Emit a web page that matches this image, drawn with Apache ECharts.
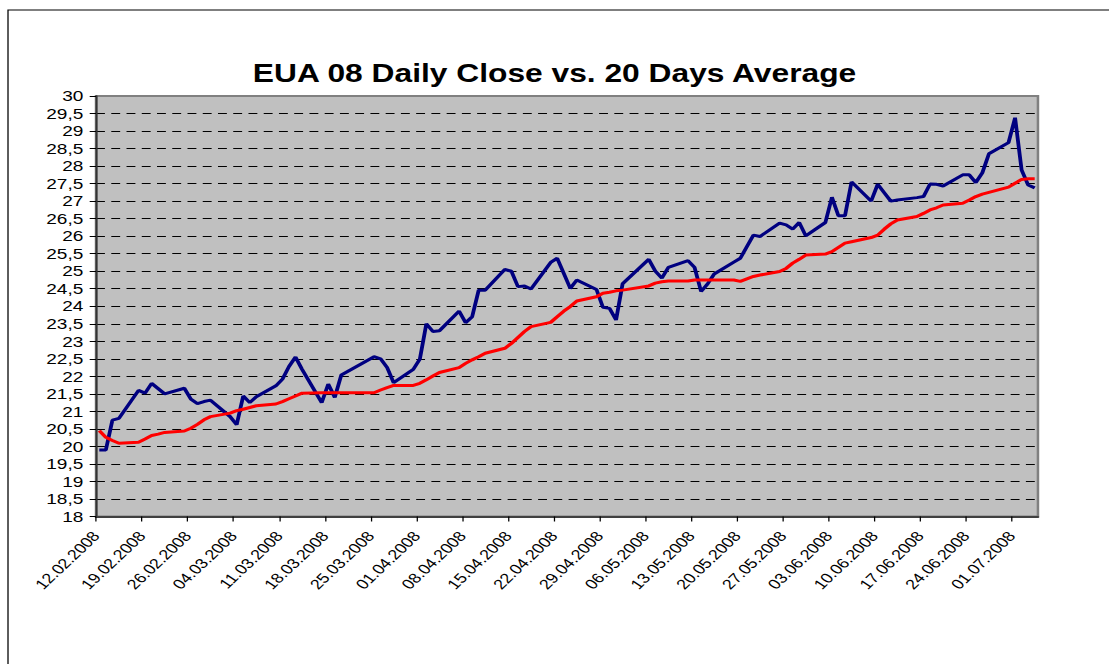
<!DOCTYPE html>
<html><head><meta charset="utf-8">
<script src="https://cdn.jsdelivr.net/npm/echarts@6/dist/echarts.min.js"></script>
<style>
html,body{margin:0;padding:0;background:#fff;overflow:hidden;}
#wrap{width:1109px;height:664px;overflow:hidden;position:relative;background:#fff;}
#chart{width:873px;height:664px;transform:scaleX(1.2703);transform-origin:0 0;}
</style></head><body>
<div id="wrap"><div id="chart"></div></div>
<script>
const tradingDates = [
'12.02.2008','13.02.2008','14.02.2008','15.02.2008',
'18.02.2008','19.02.2008','20.02.2008','21.02.2008','22.02.2008',
'25.02.2008','26.02.2008','27.02.2008','28.02.2008','29.02.2008',
'03.03.2008','04.03.2008','05.03.2008','06.03.2008','07.03.2008',
'10.03.2008','11.03.2008','12.03.2008','13.03.2008','14.03.2008',
'17.03.2008','18.03.2008','19.03.2008','20.03.2008',
'25.03.2008','26.03.2008','27.03.2008','28.03.2008',
'31.03.2008','01.04.2008','02.04.2008','03.04.2008','04.04.2008',
'07.04.2008','08.04.2008','09.04.2008','10.04.2008','11.04.2008',
'14.04.2008','15.04.2008','16.04.2008','17.04.2008','18.04.2008',
'21.04.2008','22.04.2008','23.04.2008','24.04.2008','25.04.2008',
'28.04.2008','29.04.2008','30.04.2008','01.05.2008','02.05.2008',
'06.05.2008','07.05.2008','08.05.2008','09.05.2008',
'12.05.2008','13.05.2008','14.05.2008','15.05.2008','16.05.2008',
'19.05.2008','20.05.2008','21.05.2008','22.05.2008','23.05.2008',
'26.05.2008','27.05.2008','28.05.2008','29.05.2008','30.05.2008',
'02.06.2008','03.06.2008','04.06.2008','05.06.2008','06.06.2008',
'09.06.2008','10.06.2008','11.06.2008','12.06.2008','13.06.2008',
'16.06.2008','17.06.2008','18.06.2008','19.06.2008','20.06.2008',
'23.06.2008','24.06.2008','25.06.2008','26.06.2008','27.06.2008',
'30.06.2008','01.07.2008','02.07.2008','03.07.2008','04.07.2008'
];
const dailyClose = [
19.9,19.9,20.75,20.8,
21.6,21.52,21.8,21.65,21.5,
21.66,21.35,21.22,21.28,21.32,
20.85,20.62,21.44,21.25,21.42,
21.73,21.92,22.28,22.55,22.2,
21.25,21.78,21.4,22.04,
22.56,22.5,22.25,21.82,
22.2,22.49,23.5,23.28,23.3,
23.86,23.53,23.7,24.46,24.46,
25.05,25.0,24.56,24.58,24.49,
25.25,25.37,24.94,24.51,24.75,
24.48,23.97,23.94,23.61,24.64,
25.34,25.0,24.8,25.11,
25.3,25.11,24.42,24.64,24.92,
25.26,25.37,25.7,26.03,25.99,
26.37,26.32,26.2,26.39,26.01,
26.39,27.11,26.58,26.58,27.55,
27.0,27.48,27.24,27.0,27.03,
27.1,27.13,27.49,27.48,27.43,
27.75,27.75,27.53,27.81,28.35,
28.67,29.38,27.89,27.46,27.38
];
const average20 = [
20.45,20.26,20.17,20.09,
20.12,20.21,20.31,20.35,20.40,
20.44,20.52,20.63,20.76,20.85,
20.95,21.02,21.06,21.11,21.16,
21.21,21.28,21.36,21.44,21.52,
21.53,21.53,21.53,21.53,
21.53,21.61,21.68,21.74,
21.74,21.80,21.90,22.01,22.11,
22.25,22.37,22.47,22.56,22.66,
22.80,22.94,23.11,23.28,23.42,
23.54,23.70,23.86,23.99,24.15,
24.27,24.37,24.40,24.44,24.46,
24.58,24.66,24.70,24.72,
24.72,24.75,24.75,24.75,24.75,
24.75,24.71,24.78,24.85,24.89,
24.99,25.08,25.23,25.34,25.46,
25.49,25.56,25.68,25.80,25.84,
25.96,26.03,26.20,26.35,26.46,
26.56,26.65,26.75,26.81,26.89,
26.94,27.03,27.13,27.20,27.25,
27.40,27.51,27.62,27.64,27.64
];
const tickLabels = [
'12.02.2008','19.02.2008','26.02.2008','04.03.2008','11.03.2008','18.03.2008',
'25.03.2008','01.04.2008','08.04.2008','15.04.2008','22.04.2008','29.04.2008',
'06.05.2008','13.05.2008','20.05.2008','27.05.2008','03.06.2008','10.06.2008',
'17.06.2008','24.06.2008','01.07.2008'
];
const axisStartDate = '12.02.2008';
const axisEndDate = '05.07.2008';
const titleText = 'EUA 08 Daily Close vs. 20 Days Average';

function toUTC(s){ const p = s.split('.').map(Number); return Date.UTC(p[2], p[1]-1, p[0]); }
function dayIndex(s){ return Math.round((toUTC(s) - toUTC(axisStartDate)) / 86400000); }

const tickPos = tickLabels.map(dayIndex);
const labelAt = {};
tickLabels.forEach(function(t){ labelAt[dayIndex(t)] = t; });
const closeData = tradingDates.map(function(d,i){ return [dayIndex(d) + 0.5, dailyClose[i]]; });
const avgData = tradingDates.map(function(d,i){ return [dayIndex(d) + 0.5, average20[i]]; });

const chart = echarts.init(document.getElementById('chart'), null, {renderer:'svg'});
chart.setOption({
  animation: false,
  backgroundColor: 'transparent',
  title: {
    text: titleText, left: 'center', top: 56,
    textStyle: {fontFamily: 'Liberation Sans, Arial, sans-serif', fontWeight: 'bold', fontSize: 25, color: '#000'}
  },
  graphic: [{
    type: 'rect', silent: true, z: -1,
    shape: {x: 6.3, y: 10, width: 2000, height: 2000},
    style: {fill: 'none', stroke: '#000', lineWidth: 1}
  }],
  grid: {
    left: 75.6, right: 55.9, top: 96, bottom: 147.5,
    show: true, backgroundColor: '#C0C0C0', borderColor: '#808080', borderWidth: 2
  },
  xAxis: {
    type: 'value', min: 0, max: dayIndex(axisEndDate), interval: 7,
    axisLine: {show: true, onZero: false, lineStyle: {color: '#404040', width: 2}},
    axisTick: {show: true, length: 5, customValues: tickPos, lineStyle: {color: '#000', width: 1}},
    axisLabel: {
      customValues: tickPos, rotate: 50, margin: 17,
      fontFamily: 'Liberation Sans, Arial, sans-serif', fontSize: 14, color: '#000',
      formatter: function(v){ return labelAt[v] || ''; }
    },
    splitLine: {show: false}
  },
  yAxis: {
    type: 'value', min: 18, max: 30, interval: 0.5,
    axisLine: {show: true, lineStyle: {color: '#333', width: 1.6}},
    axisTick: {show: true, length: 5, lineStyle: {color: '#000', width: 1}},
    axisLabel: {
      margin: 10, fontFamily: 'Liberation Sans, Arial, sans-serif', fontSize: 15, color: '#000',
      formatter: function(v){ return String(v).replace('.', ','); }
    },
    splitLine: {show: true, showMaxLine: false, showMinLine: false, lineStyle: {color: '#000', width: 1, type: [7, 5]}}
  },
  series: [
    {name: 'Daily Close', type: 'line', data: closeData, showSymbol: false, symbol: 'none',
     lineStyle: {color: '#000080', width: 3}, itemStyle: {color: '#000080'}},
    {name: '20 Days Average', type: 'line', data: avgData, showSymbol: false, symbol: 'none',
     lineStyle: {color: '#FF0000', width: 3}, itemStyle: {color: '#FF0000'}}
  ]
});
</script>
</body></html>
